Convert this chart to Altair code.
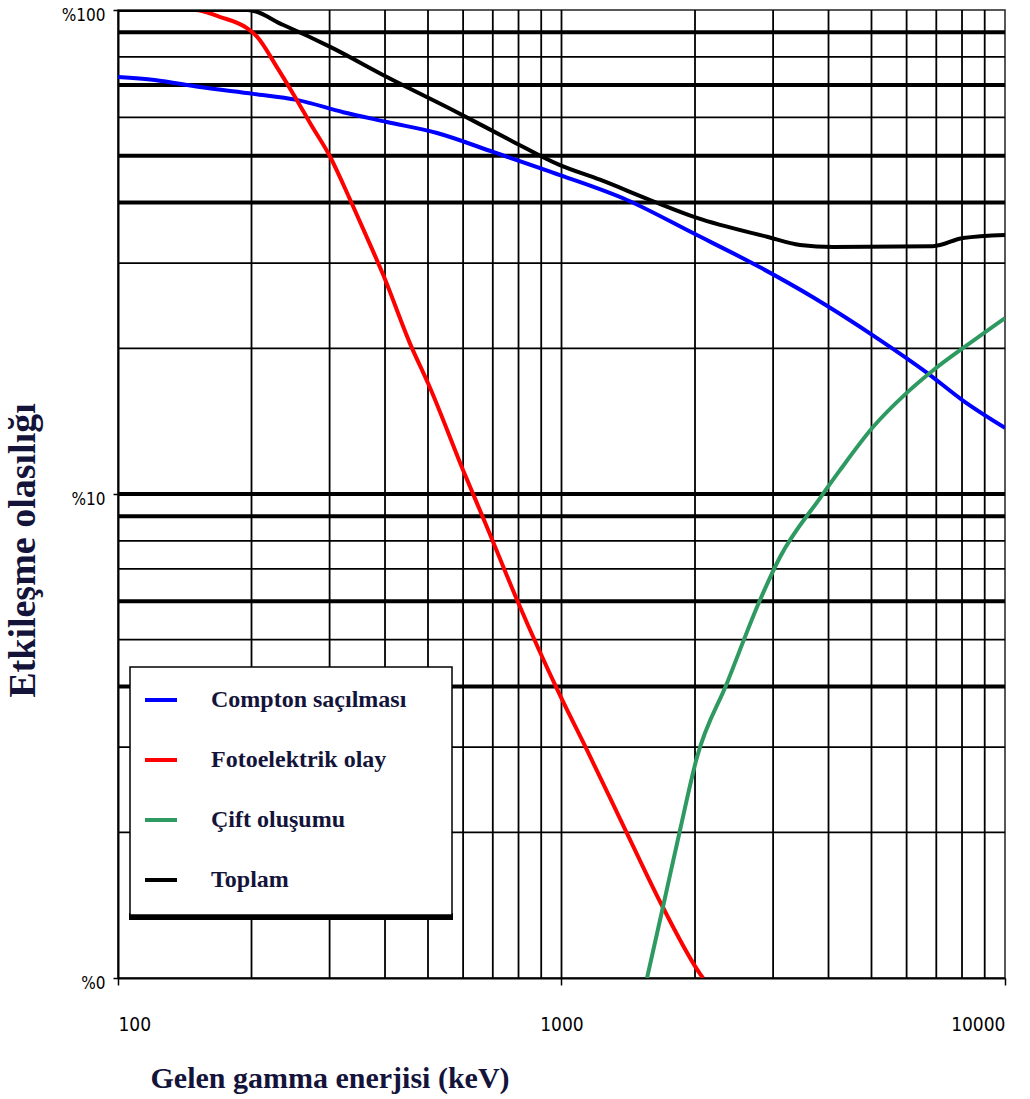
import altair as alt
import pandas as pd

# ---------------- data (keV, %) ----------------
series_names = ["Compton saçılması", "Fotoelektrik olay", "Çift oluşumu", "Toplam"]
series_colors = ["#0000FF", "#FF0000", "#2E9A62", "#000000"]

compton_keV = [100, 121, 153, 202, 253, 322, 404, 524, 701, 992, 1405, 1979, 2803, 3690, 5145, 6672, 8040, 10000]
compton_pct = [72.7, 71.7, 69.3, 67.1, 65.2, 61.5, 58.7, 55.7, 50.9, 45.6, 40.5, 34.6, 29.4, 25.5, 21.0, 17.8, 15.6, 13.7]

photo_keV = [100, 149, 170, 195, 206, 228, 253, 271, 301, 334, 370, 396, 455, 505, 600, 679, 794, 992, 1141, 1405, 1693, 2053, 2085]
photo_pct = [100, 100, 96.7, 91.8, 88.0, 76.3, 65.2, 58.4, 49.7, 40.5, 32.8, 28.4, 20.5, 16.6, 11.2, 8.55, 6.04, 3.84, 2.96, 1.99, 1.40, 1.02, 1.0]

pair_keV = [1559, 1693, 1850, 2021, 2362, 2803, 3110, 3828, 4246, 5040, 6012, 6880, 8210, 10000]
pair_pct = [1.0, 1.40, 2.02, 2.86, 4.07, 6.04, 7.41, 9.81, 11.2, 13.75, 16.2, 18.0, 20.3, 23.1]

total_keV = [100, 196, 236, 301, 404, 581, 765, 992, 1221, 1584, 2021, 2907, 3450, 4095, 6880, 8040, 10000]
total_pct = [100, 100, 93.1, 83.9, 72.7, 61.5, 53.9, 47.8, 44.6, 40.5, 37.2, 34.0, 32.7, 32.4, 32.5, 33.8, 34.3]

# grid lines (log minor ticks) and their apparent weights in the reference
h_grid_vals = [2, 3, 4, 5, 6, 7, 8, 9, 10, 20, 30, 40, 50, 60, 70, 80, 90]
h_grid_heavy = [0, 0, 1, 0, 1, 0, 0, 1, 1, 0, 0, 1, 1, 0, 1, 0, 1]
v_grid_vals = [200, 300, 400, 500, 600, 700, 800, 900, 1000,
               2000, 3000, 4000, 5000, 6000, 7000, 8000, 9000]

x_ticks = [100, 1000, 10000]
y_ticks = [1, 10, 100]

# ---------------- tables ----------------
rows = []
for name, ks, ps in zip(series_names,
                        [compton_keV, photo_keV, pair_keV, total_keV],
                        [compton_pct, photo_pct, pair_pct, total_pct]):
    for k, p in zip(ks, ps):
        rows.append({"seri": name, "keV": k, "pct": p})
curves = pd.DataFrame(rows)

hgrid = pd.DataFrame({"pct": h_grid_vals, "w": [4.0 if h else 1.8 for h in h_grid_heavy]})
vgrid = pd.DataFrame({"keV": v_grid_vals})

xscale = alt.Scale(type="log", domain=[100, 10000], nice=False)
yscale = alt.Scale(type="log", domain=[1, 100], nice=False)

NARROW = "Liberation Sans Narrow, DejaVu Sans Condensed, sans-serif"
SERIF = "Liberation Serif, Times New Roman, serif"
TITLE_COLOR = "#14143a"

x_axis = alt.Axis(values=x_ticks, format="d", grid=False, labelFlush=True,
                  tickSize=7, tickWidth=1.5, tickColor="black",
                  domainColor="black", domainWidth=2,
                  labelFont=NARROW, labelFontSize=19, labelColor="black",
                  labelPadding=30,
                  title="Gelen gamma enerjisi (keV)",
                  titleFont=SERIF, titleFontSize=30, titleFontWeight="bold",
                  titleColor=TITLE_COLOR, titleX=32, titleY=109,
                  titleAlign="left", titleBaseline="alphabetic")
y_axis = alt.Axis(values=y_ticks, grid=False,
                  labelExpr="datum.value >= 100 ? '%100' : (datum.value >= 10 ? '%10' : '%0')",
                  tickSize=5, tickWidth=1.5, tickColor="black",
                  domainColor="black", domainWidth=2,
                  labelFont=NARROW, labelFontSize=17, labelColor="black",
                  labelPadding=8, labelOffset=5,
                  title="Etkileşme olasılığı",
                  titleFont=SERIF, titleFontSize=38, titleFontWeight="bold",
                  titleColor=TITLE_COLOR, titleAngle=270,
                  titleX=-84, titleY=540, titleAlign="center",
                  titleBaseline="alphabetic")

hlines = alt.Chart(hgrid).mark_rule(color="black").encode(
    y=alt.Y("pct:Q", scale=yscale, axis=y_axis),
    strokeWidth=alt.StrokeWidth("w:Q", scale=None),
)
vlines = alt.Chart(vgrid).mark_rule(color="black", strokeWidth=1.8).encode(
    x=alt.X("keV:Q", scale=xscale, axis=x_axis),
)

lines = alt.Chart(curves).mark_line(strokeWidth=4, interpolate="monotone", clip=True).encode(
    x=alt.X("keV:Q", scale=xscale, axis=x_axis),
    y=alt.Y("pct:Q", scale=yscale, axis=y_axis),
    color=alt.Color("seri:N",
                    scale=alt.Scale(domain=series_names, range=series_colors),
                    legend=alt.Legend(orient="none", legendX=25, legendY=672, title=None,
                                      symbolType="stroke", symbolSize=1024,
                                      symbolStrokeWidth=4, padding=0, rowPadding=30,
                                      labelFont=SERIF, labelFontWeight="bold",
                                      labelFontSize=24, labelColor=TITLE_COLOR,
                                      labelOffset=32, labelLimit=400)),
    detail="seri:N",
)

box_df = pd.DataFrame({"one": [1]})
legend_box = alt.Chart(box_df).mark_rect(fill="white", stroke="black", strokeWidth=1.5).encode(
    x=alt.value(12), x2=alt.value(334), y=alt.value(657), y2=alt.value(905),
)
legend_shadow = alt.Chart(box_df).mark_rect(fill="black").encode(
    x=alt.value(11), x2=alt.value(335), y=alt.value(903), y2=alt.value(910),
)

chart = alt.layer(vlines, hlines, legend_shadow, legend_box, lines).properties(
    width=887, height=968,
    autosize=alt.AutoSizeParams(type="none"),
    padding={"left": 118, "top": 10, "right": 25, "bottom": 121},
    background="white",
).configure_view(stroke="#222222", strokeWidth=1.5)

chart.save("out.html", embed_options={"renderer": "svg", "actions": False})
